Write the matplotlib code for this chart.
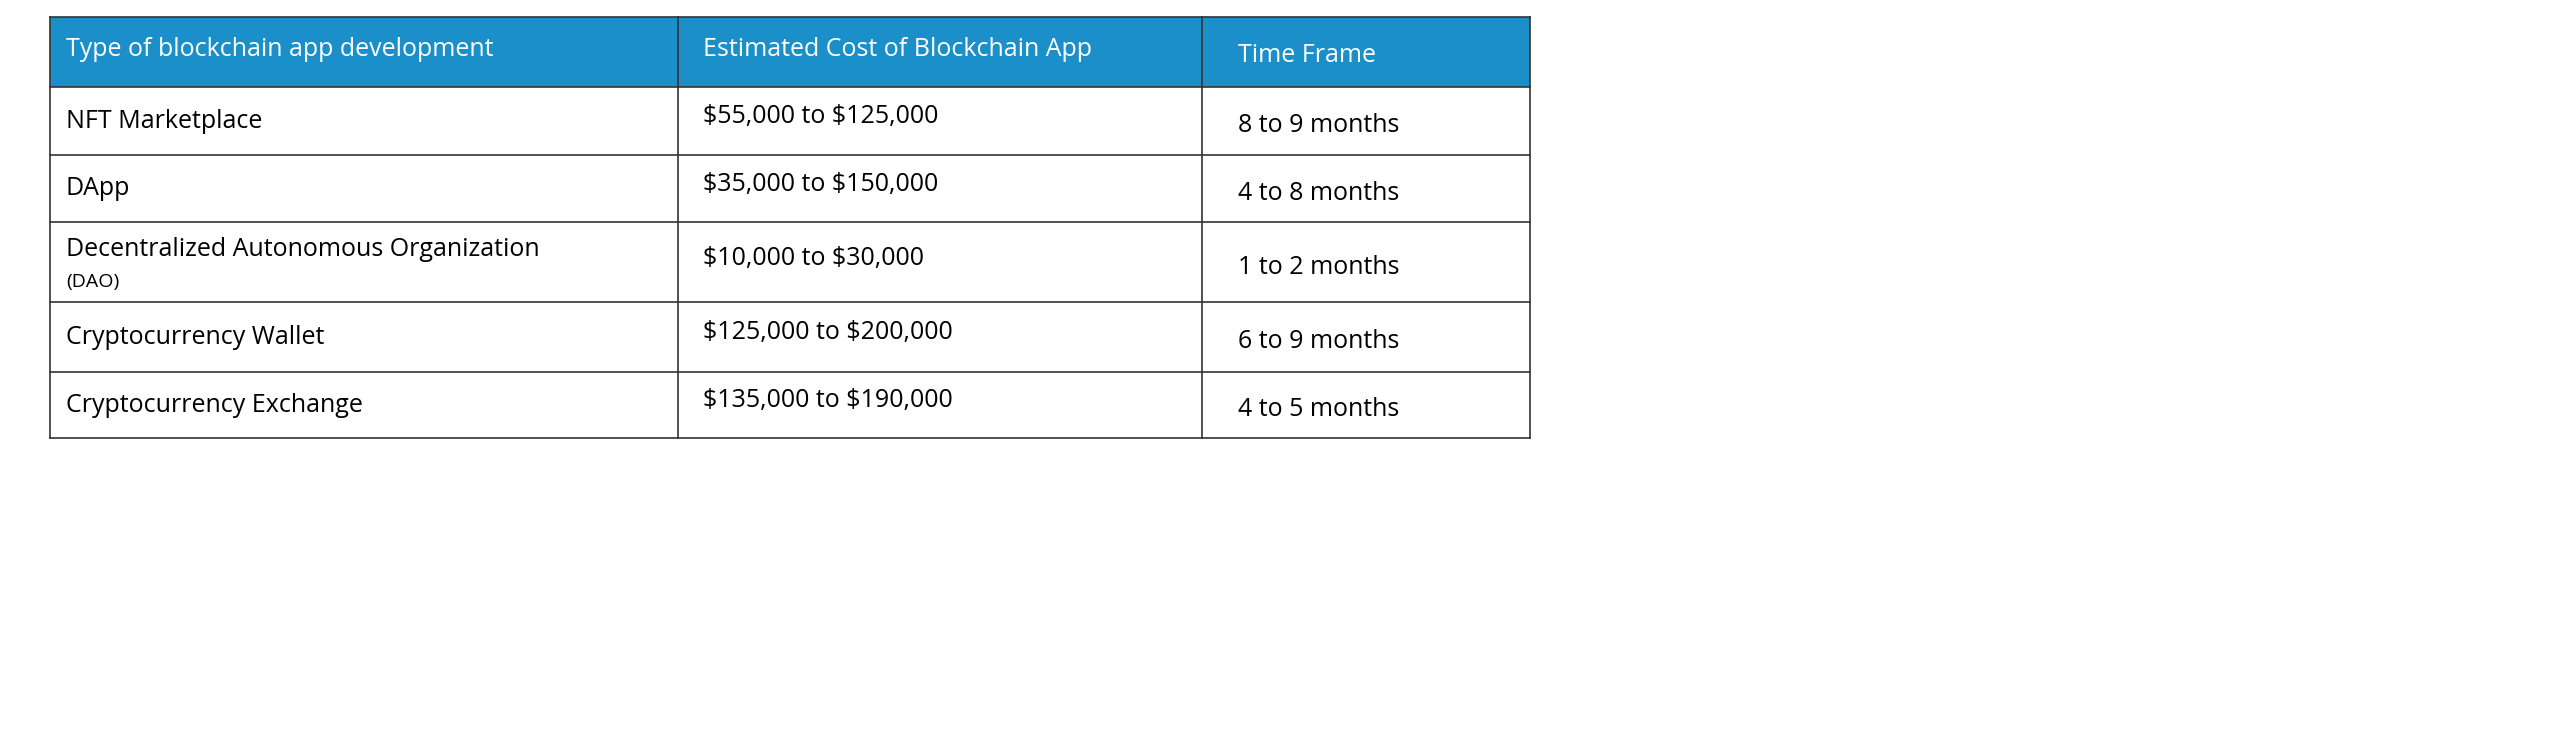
import matplotlib
matplotlib.use("Agg")
import matplotlib.pyplot as plt
from matplotlib.patches import Rectangle

headers = ["Type of blockchain app development", "Estimated Cost of Blockchain App", "Time Frame"]
app_types = ["NFT Marketplace", "DApp", "Decentralized Autonomous Organization", "Cryptocurrency Wallet", "Cryptocurrency Exchange"]
app_notes = ["", "", "(DAO)", "", ""]
costs = ["$55,000 to $125,000", "$35,000 to $150,000", "$10,000 to $30,000", "$125,000 to $200,000", "$135,000 to $190,000"]
times = ["8 to 9 months", "4 to 8 months", "1 to 2 months", "6 to 9 months", "4 to 5 months"]

# layout (pixels)
W, H = 2560, 741
col_edges = [50, 678, 1202, 1530]
row_edges = [17, 87, 155, 222, 302, 372, 438]
text_x = [66, 703, 1238]
col_dy = [0, -4, 5]
blue = "#1a8fc9"
line = "#333333"
font = "Open Sans"

fig = plt.figure(figsize=(W/100, H/100), dpi=100)
ax = fig.add_axes([0, 0, 1, 1])
ax.set_xlim(0, W); ax.set_ylim(H, 0); ax.axis("off")

ax.add_patch(Rectangle((col_edges[0], row_edges[0]), col_edges[-1]-col_edges[0], row_edges[1]-row_edges[0],
                       facecolor=blue, edgecolor="none"))
for i, h in enumerate(headers):
    yc = (row_edges[0]+row_edges[1])/2 + [-3, -3, 4][i]
    ax.text(text_x[i], yc, h, color="white", fontsize=18, family=font, va="center", parse_math=False)

for r in range(len(app_types)):
    y0, y1 = row_edges[r+1], row_edges[r+2]
    yc = (y0+y1)/2
    if app_notes[r]:
        ax.text(text_x[0], yc-12, app_types[r], fontsize=18, family=font, va="center", color="black")
        ax.text(text_x[0], yc+20, app_notes[r], fontsize=14, family=font, va="center", color="black")
    else:
        ax.text(text_x[0], yc+col_dy[0], app_types[r], fontsize=18, family=font, va="center", color="black")
    ax.text(text_x[1], yc+col_dy[1], costs[r], fontsize=18, family=font, va="center", color="black",
            parse_math=False)
    ax.text(text_x[2], yc+col_dy[2], times[r], fontsize=18, family=font, va="center", color="black")

for y in row_edges[1:]:
    ax.plot([col_edges[0], col_edges[-1]], [y, y], color=line, lw=1.2)
for x in col_edges:
    ax.plot([x, x], [row_edges[0], row_edges[-1]], color=line, lw=1.2)
ax.plot([col_edges[0], col_edges[-1]], [row_edges[0], row_edges[0]], color=line, lw=1.2)

fig.savefig("out.png", dpi=100, facecolor="white")
